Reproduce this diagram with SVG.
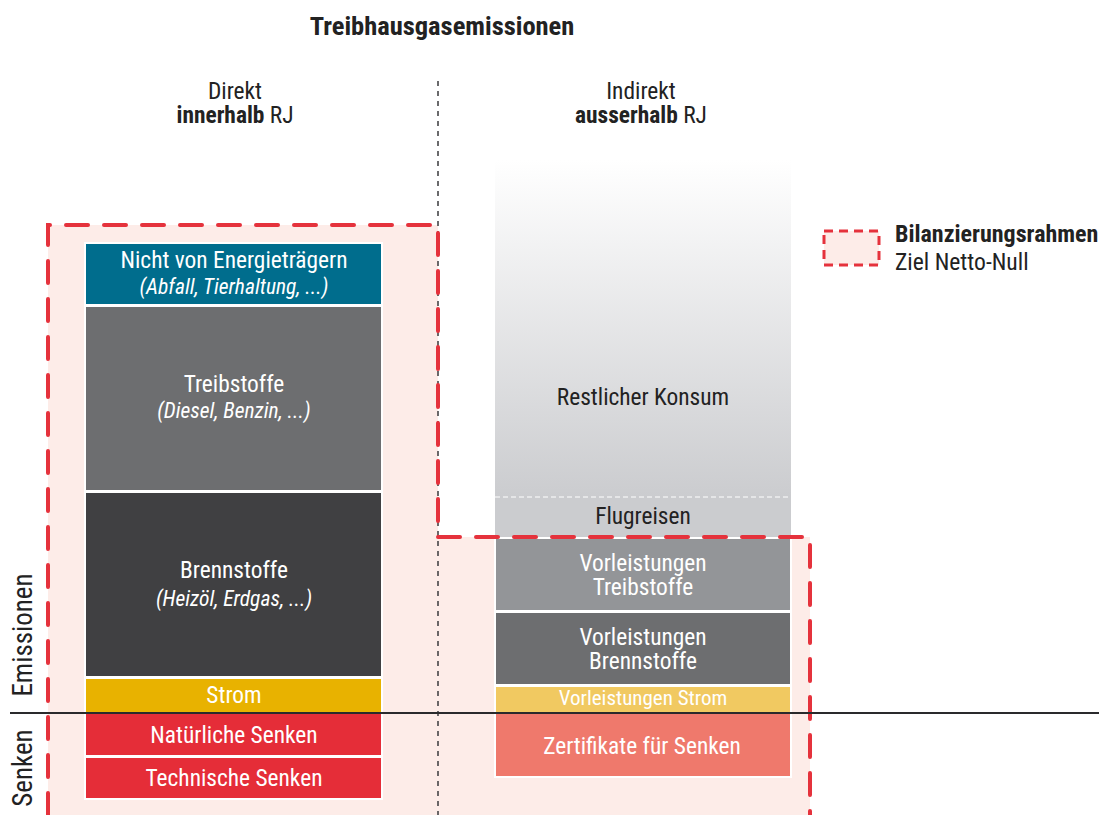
<svg xmlns="http://www.w3.org/2000/svg" width="1099" height="815" viewBox="0 0 1099 815">
<defs>
<linearGradient id="gKonsum" x1="0" y1="0" x2="0" y2="1">
<stop offset="0" stop-color="#ffffff"/>
<stop offset="1" stop-color="#cbcccf"/>
</linearGradient>
<style>
text{font-family:"Roboto Condensed","Liberation Sans Narrow","DejaVu Sans Condensed","Liberation Sans",sans-serif;text-anchor:middle}
.w{fill:#ffffff;font-size:23.4px}
.wi{fill:#ffffff;font-size:21.5px;font-style:italic}
.d{fill:#222222;font-size:23.4px}
.b{font-weight:bold}
.box{stroke:#ffffff;stroke-width:2}
.frame{fill:none;stroke:#e5323c;stroke-width:4;stroke-dasharray:22 16;stroke-linecap:round}
</style>
</defs>
<rect width="1099" height="815" fill="#ffffff"/>

<!-- pink frame fill -->
<path d="M48,815 V225 H438 V537 H810 V815 Z" fill="#fdece8"/>

<!-- title and headers -->
<text x="442" y="35" class="d b" style="font-size:26.5px">Treibhausgasemissionen</text>
<text x="235" y="99" class="d">Direkt</text>
<text x="235" y="123" class="d"><tspan class="b">innerhalb</tspan> RJ</text>
<text x="641" y="99" class="d">Indirekt</text>
<text x="641" y="123" class="d"><tspan class="b">ausserhalb</tspan> RJ</text>

<!-- left column -->
<g id="nicht-energie">
<rect class="box" x="85" y="243" width="297" height="62" fill="#006d8d"/>
<text x="234" y="268" class="w">Nicht von Energieträgern</text>
<text x="234" y="294" class="wi">(Abfall, Tierhaltung, ...)</text>
</g>
<g id="treibstoffe">
<rect class="box" x="85" y="306" width="297" height="185" fill="#6d6e70"/>
<text x="234" y="392" class="w">Treibstoffe</text>
<text x="234" y="418" class="wi">(Diesel, Benzin, ...)</text>
</g>
<g id="brennstoffe">
<rect class="box" x="85" y="492" width="297" height="185" fill="#404042"/>
<text x="234" y="578" class="w">Brennstoffe</text>
<text x="234" y="606" class="wi">(Heizöl, Erdgas, ...)</text>
</g>
<g id="strom">
<rect class="box" x="85" y="678" width="297" height="35" fill="#e8b200"/>
<text x="234" y="703" class="w">Strom</text>
</g>
<g id="natuerliche-senken">
<rect class="box" x="85" y="713" width="297" height="43" fill="#e52d38"/>
<text x="234" y="743" class="w">Natürliche Senken</text>
</g>
<g id="technische-senken">
<rect class="box" x="85" y="757" width="297" height="42" fill="#e52d38"/>
<text x="234" y="786" class="w">Technische Senken</text>
</g>

<!-- right column -->
<g id="restlicher-konsum">
<rect x="495" y="160" width="296" height="337" fill="url(#gKonsum)"/>
<text x="643" y="405" class="d">Restlicher Konsum</text>
</g>
<g id="flugreisen">
<rect x="495" y="497" width="296" height="40" fill="#cbcccf"/>
<line x1="495" y1="497" x2="791" y2="497" stroke="#ffffff" stroke-width="1" stroke-dasharray="5 3"/>
<text x="643" y="524" class="d">Flugreisen</text>
</g>
<g id="vl-treibstoffe">
<rect class="box" x="495" y="538" width="296" height="73" fill="#939598"/>
<text x="643" y="571" class="w">Vorleistungen</text>
<text x="643" y="595" class="w">Treibstoffe</text>
</g>
<g id="vl-brennstoffe">
<rect class="box" x="495" y="612" width="296" height="73" fill="#6d6e70"/>
<text x="643" y="645" class="w">Vorleistungen</text>
<text x="643" y="669" class="w">Brennstoffe</text>
</g>
<g id="vl-strom">
<rect class="box" x="495" y="686" width="296" height="27" fill="#f1c961"/>
<text x="643" y="705" class="w" style="font-size:21px">Vorleistungen Strom</text>
</g>
<g id="zertifikate">
<rect class="box" x="495" y="713" width="296" height="64" fill="#ef796c"/>
<text x="642" y="754" class="w">Zertifikate für Senken</text>
</g>

<!-- connectors / lines -->
<g id="lines">
<line x1="438" y1="81" x2="438" y2="815" stroke="#3a3a3c" stroke-width="1.5" stroke-dasharray="5 5"/>
<path class="frame" d="M48,815 V225 H438 V537 H810 V815"/>
<line x1="10" y1="713" x2="1099" y2="713" stroke="#2a2a2c" stroke-width="2"/>
</g>

<!-- axis labels -->
<text transform="translate(32,635) rotate(-90)" class="d" style="font-size:27px">Emissionen</text>
<text transform="translate(32,768) rotate(-90)" class="d" style="font-size:27px">Senken</text>

<!-- legend -->
<g id="legend">
<rect x="824" y="231" width="55" height="34" fill="#fdece8" stroke="#e5323c" stroke-width="3" stroke-dasharray="9 6"/>
<text x="895" y="242" class="d b" style="text-anchor:start;font-size:24px">Bilanzierungsrahmen</text>
<text x="895" y="270" class="d" style="text-anchor:start;font-size:23.6px">Ziel Netto-Null</text>
</g>
</svg>
